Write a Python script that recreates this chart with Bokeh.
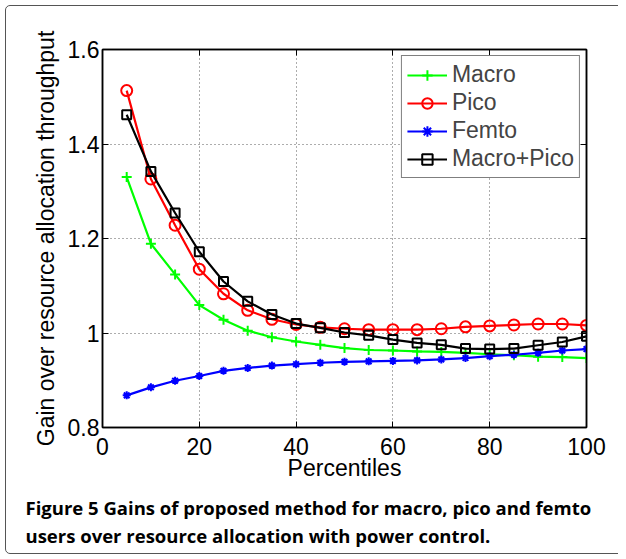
from bokeh.plotting import figure
from bokeh.models import (LinearAxis, FixedTicker, Legend, LegendItem, Title, Range1d)
from bokeh.embed import file_html
from bokeh.resources import INLINE

# ---- data ----
percentiles = [5, 10, 15, 20, 25, 30, 35, 40, 45, 50, 55, 60, 65, 70, 75, 80, 85, 90, 95, 100]
macro = [1.330, 1.189, 1.124, 1.059, 1.028, 1.005, 0.991, 0.982, 0.975, 0.968, 0.964, 0.963,
         0.961, 0.960, 0.958, 0.955, 0.953, 0.950, 0.949, 0.947]
pico = [1.513, 1.326, 1.228, 1.135, 1.083, 1.048, 1.029, 1.018, 1.012, 1.009, 1.007, 1.007,
        1.007, 1.009, 1.013, 1.015, 1.017, 1.019, 1.019, 1.016]
femto = [0.868, 0.885, 0.899, 0.909, 0.920, 0.926, 0.931, 0.934, 0.937, 0.939, 0.940, 0.941,
         0.942, 0.944, 0.947, 0.951, 0.954, 0.958, 0.963, 0.966]
macro_pico = [1.462, 1.342, 1.254, 1.172, 1.109, 1.067, 1.039, 1.020, 1.011, 1.001, 0.995, 0.986,
              0.979, 0.975, 0.967, 0.966, 0.967, 0.974, 0.981, 0.993]

x_ticks = [0, 20, 40, 60, 80, 100]
y_ticks = [0.8, 1.0, 1.2, 1.4, 1.6]
y_tick_labels = {0.8: "0.8", 1.0: "1", 1.2: "1.2", 1.4: "1.4", 1.6: "1.6"}

series_names = ["Macro", "Pico", "Femto", "Macro+Pico"]
caption_lines = ["Figure 5 Gains of proposed method for macro, pico and femto",
                 "users over resource allocation with power control."]

FONT = "Liberation Sans"

p = figure(width=626, height=559, output_backend="svg", toolbar_location=None,
           x_range=Range1d(0, 100), y_range=Range1d(0.8, 1.6),
           min_border_left=102, min_border_right=40, min_border_top=49, min_border_bottom=132)
p.outline_line_color = "black"
p.outline_line_width = 1.5
p.background_fill_color = "white"
p.border_fill_color = None
# outer rounded frame of the figure panel (drawn by CSS, seen through the transparent border)
p.styles = {"outline": "1.5px solid #555555", "outline-offset": "-6px",
            "border-radius": "10px 0 0 10px", "clip-path": "inset(0 8px 0 0)",
            "background-color": "white"}

# axes
for ax in (p.xaxis[0], p.yaxis[0]):
    ax.axis_line_width = 1.5
    ax.major_tick_in = 6
    ax.major_tick_out = 0
    ax.minor_tick_in = 0
    ax.minor_tick_out = 0
    ax.major_label_text_font = FONT
    ax.major_label_text_font_size = "23px"
    ax.major_label_text_color = "black"
    ax.axis_label_text_font = FONT
    ax.axis_label_text_font_size = "23px"
    ax.axis_label_text_font_style = "normal"
    ax.axis_label_text_color = "black"

p.xaxis[0].ticker = FixedTicker(ticks=x_ticks)
p.yaxis[0].ticker = FixedTicker(ticks=y_ticks)
p.yaxis[0].major_label_overrides = y_tick_labels
p.xaxis[0].axis_label = "Percentiles"
p.yaxis[0].axis_label = "Gain over resource allocation throughput"
p.xaxis[0].major_label_standoff = 10
p.yaxis[0].major_label_standoff = 3
p.xaxis[0].axis_label_standoff = -3
p.yaxis[0].axis_label_standoff = 6

for loc, tk in (("above", x_ticks), ("right", y_ticks)):
    ax = LinearAxis(ticker=FixedTicker(ticks=tk), axis_line_width=1.5,
                    major_tick_in=6, major_tick_out=0, minor_tick_in=0, minor_tick_out=0,
                    major_label_text_color=None, major_label_text_font_size="10px",
                    major_label_standoff=0)
    p.add_layout(ax, loc)

p.xgrid.ticker = FixedTicker(ticks=x_ticks)
p.ygrid.ticker = FixedTicker(ticks=y_ticks)
for g in (p.xgrid, p.ygrid):
    g.grid_line_color = "#333333"
    g.grid_line_dash = "1 3"
    g.grid_line_width = 1
    g.grid_line_alpha = 0.8

colors = ["#00ff00", "#ff0000", "#0000ff", "#000000"]
markers = ["cross", "circle", "asterisk", "square"]
sizes = [10, 11, 8, 9]
data = [macro, pico, femto, macro_pico]

items = []
for name, ys, c, m, s in zip(series_names, data, colors, markers, sizes):
    ln = p.line(percentiles, ys, line_color=c, line_width=2.2)
    sc = p.scatter(percentiles, ys, marker=m, size=s, line_color=c, line_width=2,
                   fill_color=None)
    items.append(LegendItem(label=name, renderers=[ln, sc]))

legend = Legend(items=items, location="top_right", margin=6, padding=5, spacing=1,
                glyph_width=40, glyph_height=26, label_height=26, label_standoff=5,
                label_text_font=FONT, label_text_font_size="23px",
                border_line_color="black", border_line_width=1.2,
                background_fill_color="white", background_fill_alpha=1)
p.add_layout(legend)

# caption as a two-line title below the plot
cap = Title(text="\n".join(caption_lines), align="left", offset=-77, text_font="Open Sans",
            text_font_style="bold", text_font_size="18.5px", text_color="black",
            text_line_height=1.12, standoff=18)
p.add_layout(cap, "below")

open("out.html", "w").write(file_html(p, INLINE))
